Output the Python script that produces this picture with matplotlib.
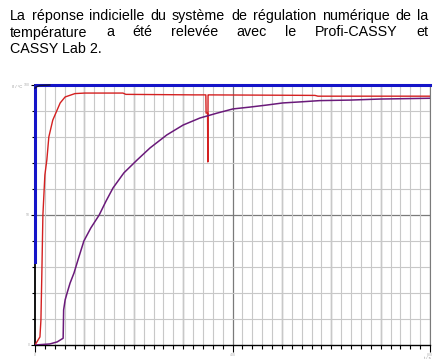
import matplotlib.pyplot as plt
import numpy as np

W, H, DPI = 447, 364, 100

plt.rcParams['font.family'] = ['Liberation Sans', 'DejaVu Sans']

# text above the chart (lines 1-2 justified, line 3 left)
text_lines = [
    "La réponse indicielle du système de régulation numérique de la",
    "température a été relevée avec le Profi-CASSY et",
    "CASSY Lab 2.",
]
justified = [True, True, False]

# step response, time in s, temperature in % of full scale
red_t = [0, 10, 12, 14, 16, 20, 24, 28, 36, 51, 61, 81, 101, 178, 184, 324,
         346, 346.5, 349.5, 350, 350.5, 351, 567, 573, 800]
red_y = [0, 3.1, 9.6, 28.8, 50, 65.4, 71.2, 80, 86.5, 93.1, 95.4, 96.7, 96.9,
         96.9, 96.4, 96.2, 96.2, 89.2, 89.2, 70.4, 96.2, 96.2, 96.0, 95.7, 95.7]

purple_t = [0, 30, 45, 57, 58, 61, 65, 71, 79, 87, 99, 113, 130, 144, 158,
            180, 207, 233, 267, 300, 334, 369, 401, 435, 470, 502, 537, 577,
            638, 699, 800]
purple_y = [0, 0.4, 1.2, 2.6, 13.5, 17.3, 20, 23.8, 27.7, 32.7, 40, 45, 50,
            55.4, 60.4, 66.2, 71.2, 75.8, 80.8, 84.6, 87.3, 89.2, 90.8, 91.5,
            92.3, 93.1, 93.5, 94.0, 94.2, 94.6, 94.9]

setpoint_t = [0, 0, 800]
setpoint_y = [31.9, 100, 100]

start_t = [0, 4, 10, 30]
start_y = [98.8, 99.4, 99.8, 100]

x_labels = ['0', '400', '800']
y_labels = ['0', '50', '100']

fig = plt.figure(figsize=(W / DPI, H / DPI), dpi=DPI)
ax = fig.add_axes([35 / W, 19 / H, 395 / W, 260 / H])
ax.set_xlim(0, 800)
ax.set_ylim(0, 100)

# grid
ax.set_xticks(np.arange(0, 801, 20), minor=True)
ax.set_yticks(np.arange(0, 101, 10), minor=True)
ax.grid(which='minor', color='#c8c8c8', lw=0.8)
ax.grid(which='major', visible=False)
for v in np.arange(100, 801, 100):
    ax.axvline(v, color='#7a7a7a', lw=0.9, zorder=1)
ax.axhline(50, color='#7a7a7a', lw=0.9, zorder=1)

ax.set_xticks([0, 400, 800])
ax.set_xticklabels(x_labels, fontsize=2.5, color='#b0b0b0')
ax.set_yticks([0, 50, 100])
ax.set_yticklabels(y_labels, fontsize=2.5, color='#b0b0b0')
ax.tick_params(axis='x', which='minor', direction='out', length=3, width=0.8)
ax.tick_params(axis='x', which='major', direction='out', length=5, width=0.8, pad=1)
ax.tick_params(axis='y', which='minor', direction='out', length=2, width=0.8)
ax.tick_params(axis='y', which='major', direction='out', length=3, width=0.8, pad=1)

ax.spines['top'].set_visible(False)
ax.spines['right'].set_color('#7a7a7a')
ax.spines['left'].set_linewidth(1.3)
ax.spines['bottom'].set_linewidth(1.0)

ax.plot(red_t, red_y, color='#d42020', lw=1.0, zorder=3)
ax.plot(purple_t, purple_y, color='#6a1a7a', lw=1.1, zorder=3)
ax.plot(setpoint_t, setpoint_y, color='#1414c8', lw=2.2, zorder=4, clip_on=False)
ax.plot(start_t, start_y, color='#101040', lw=1.0, zorder=5, clip_on=False)

fig.text(12 / W, (H - 87) / H, 'ϑ / °C', fontsize=3, color='#909090', va='center')
fig.text(424 / W, (H - 358) / H, 't / s', fontsize=3, color='#909090', va='center')

# justified paragraph
renderer = fig.canvas.get_renderer()
x0, x1 = 10, 428
baselines = [20, 36.5, 53]
fs = 10.3
for line, just, yb in zip(text_lines, justified, baselines):
    yf = (H - yb) / H
    if not just:
        fig.text(x0 / W, yf, line, fontsize=fs, va='baseline', ha='left')
        continue
    words = line.split()
    arts = [fig.text(0, yf, w, fontsize=fs, va='baseline', ha='left') for w in words]
    widths = [a.get_window_extent(renderer).width for a in arts]
    gap = (x1 - x0 - sum(widths)) / (len(words) - 1)
    x = x0
    for a, w in zip(arts, widths):
        a.set_x(x / W)
        x += w + gap

fig.savefig('out.png', dpi=DPI)
